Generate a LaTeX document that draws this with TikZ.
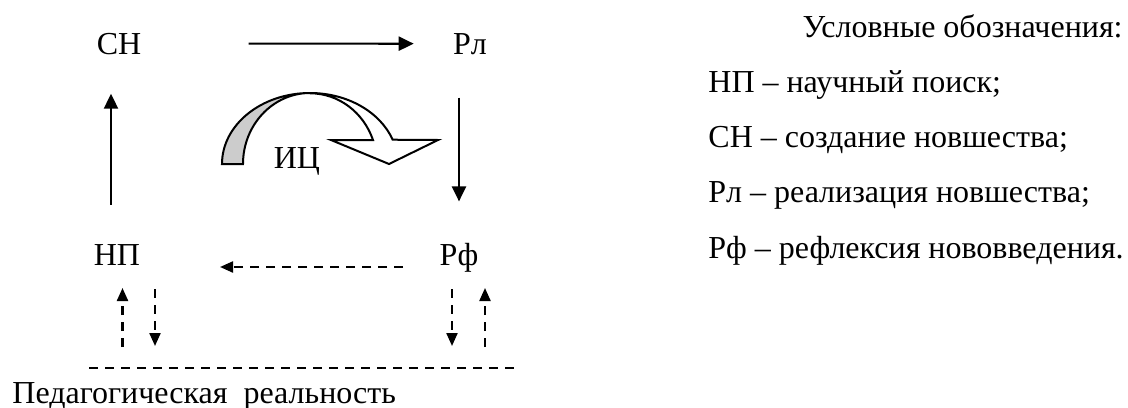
\documentclass[tikz,border=0pt]{standalone}
\usepackage{fontspec}
\setmainfont{Liberation Serif}
\usepackage{xcolor}
\usetikzlibrary{arrows.meta}
\definecolor{bandgrey}{gray}{0.8}

\begin{document}
\begin{tikzpicture}[x=0.5pt, y=-0.5pt,
    lbl/.style={anchor=base, inner sep=0pt, font=\fontsize{16}{19}\selectfont},
    arr/.style={line width=1.1pt, -{Triangle[length=7.5pt,width=7pt]}},
    darr/.style={line width=1.1pt, dash pattern=on 4.5pt off 3.5pt, -{Triangle[length=6.5pt,width=5.5pt]}}]
  \useasboundingbox (0,0) rectangle (1128,407);

  \node (CN) [lbl] at (119,54) {СН};
  \node (Rl) [lbl] at (470,54) {Рл};
  \node (NP) [lbl] at (117,265) {НП};
  \node (Rf) [lbl] at (459,265) {Рф};

  \draw[arr, shorten <=53.5pt, shorten >=19.5pt] (CN) -- (Rl);
  \draw[arr, shorten <=19.5pt, shorten >=19.5pt]
    ([xshift=-3pt]NP.north) -- ([xshift=-3pt]NP.north |- CN.south);
  \draw[arr, shorten <=21.5pt, shorten >=20.5pt] (Rl.south -| Rf) -- (Rf.north);
  \draw[darr, shorten <=28pt, shorten >=51.5pt]
    ([yshift=-1pt]Rf.base) -- ([yshift=-1pt]NP.base);

  % curved arrow
  \filldraw[line width=1pt, fill=bandgrey] (222,164)
    arc[start angle=180, end angle=270, x radius=88, y radius=71]
    arc[start angle=270, end angle=180, x radius=67, y radius=71] -- cycle;
  \filldraw[line width=1pt, fill=white, line join=miter] (310,93)
    arc[start angle=270, end angle=340, x radius=88, y radius=71]
    -- (438,140) -- (389,164) -- (331,140) -- (373,140)
    arc[start angle=340, end angle=270, x radius=67, y radius=71];
  \node (IC) [lbl] at (297,168) {ИЦ};

  % pedagogical reality
  \coordinate (PRa) at (89,368);
  \coordinate (PRb) at (518,368);
  \draw[line width=1.1pt, dash pattern=on 4.5pt off 3.5pt] (PRa) -- (PRb);
  \node (PR) [lbl, anchor=base west] at (12,403) {Педагогическая~ реальность};

  \draw[darr, shorten <=10.5pt, shorten >=11.5pt]
    ([xshift=2.75pt]NP.base |- PRa) -- ([xshift=2.75pt]NP.base);
  \draw[darr, shorten <=12pt, shorten >=11pt]
    ([xshift=19pt]NP.base) -- ([xshift=19pt]NP.base |- PRa);
  \draw[darr, shorten <=12pt, shorten >=11pt]
    ([xshift=-3.5pt]Rf.base) -- ([xshift=-3.5pt]Rf.base |- PRa);
  \draw[darr, shorten <=10.5pt, shorten >=11.5pt]
    ([xshift=13pt]Rf.base |- PRa) -- ([xshift=13pt]Rf.base);

  % legend
  \node (LT) [lbl, anchor=base east] at (1123,37) {Условные обозначения:};
  \node (L1) [lbl, anchor=base west] at (708,92) {НП – научный поиск;};
  \node (L2) [lbl, anchor=base west] at (708,147) {СН – создание новшества;};
  \node (L3) [lbl, anchor=base west] at (708,202) {Рл – реализация новшества;};
  \node (L4) [lbl, anchor=base west] at (708,258) {Рф – рефлексия нововведения.};
\end{tikzpicture}
\end{document}
